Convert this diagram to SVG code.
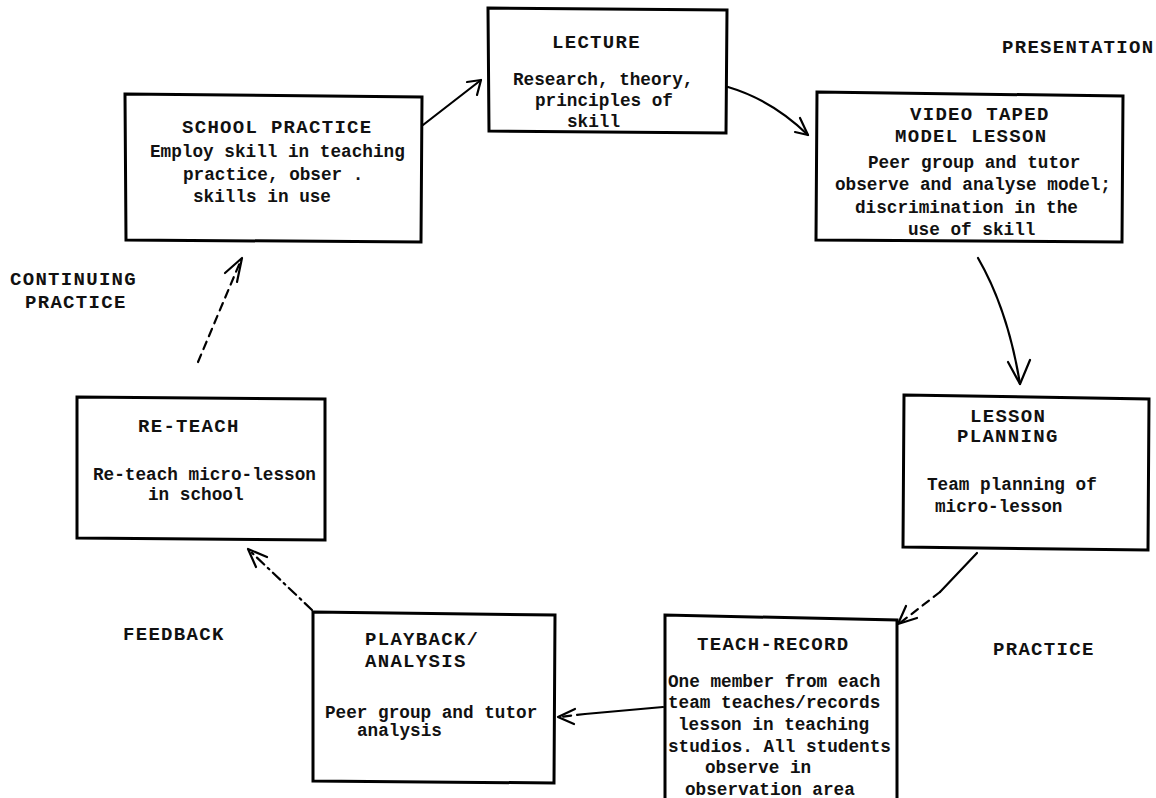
<svg xmlns="http://www.w3.org/2000/svg" width="1156" height="798" viewBox="0 0 1156 798">
<style>
.box{fill:none;stroke:#000;stroke-width:3;stroke-linejoin:miter}
.t{font-family:"Liberation Mono","Courier New",monospace;font-weight:700;font-size:19px;letter-spacing:1.3px;fill:#111}
.b{font-family:"Liberation Mono","Courier New",monospace;font-weight:700;font-size:17.7px;fill:#111}
.c{fill:none;stroke:#000;stroke-width:2.2;stroke-linecap:round;stroke-linejoin:round}
.d{stroke-dasharray:8 6}
.dd{stroke-dasharray:10 5 2 5}
</style>
<rect width="1156" height="798" fill="#fff"/>
<g id="lecture">
<path class="box" d="M488,8 L727,10 L726,133 L489,131 Z"/>
<text class="t" x="552" y="48">LECTURE</text>
<text class="b" x="513" y="85">Research, theory,</text>
<text class="b" x="535" y="106">principles of</text>
<text class="b" x="567" y="127">skill</text>
</g>
<g id="school-practice">
<path class="box" d="M125,94 L422,97 L421,242 L126,240 Z"/>
<text class="t" x="182" y="133">SCHOOL PRACTICE</text>
<text class="b" x="150" y="157">Employ skill in teaching</text>
<text class="b" x="183" y="180">practice, obser .</text>
<text class="b" x="193" y="202">skills in use</text>
</g>
<g id="video-taped">
<path class="box" d="M817,92 L1123,96 L1122,242 L816,240 Z"/>
<text class="t" x="910" y="120">VIDEO TAPED</text>
<text class="t" x="895" y="142">MODEL LESSON</text>
<text class="b" x="868" y="168">Peer group and tutor</text>
<text class="b" x="835" y="190">observe and analyse model;</text>
<text class="b" x="855" y="213">discrimination in the</text>
<text class="b" x="908" y="235">use of skill</text>
</g>
<g id="lesson-planning">
<path class="box" d="M904,395 L1149,399 L1148,550 L903,547 Z"/>
<text class="t" x="970" y="422">LESSON</text>
<text class="t" x="957" y="442">PLANNING</text>
<text class="b" x="927" y="490">Team planning of</text>
<text class="b" x="935" y="512">micro-lesson</text>
</g>
<g id="teach-record">
<path class="box" d="M665,800 L665,615 L897,620 L897,800"/>
<text class="t" x="697" y="650">TEACH-RECORD</text>
<text class="b" x="668" y="687">One member from each</text>
<text class="b" x="668" y="708">team teaches/records</text>
<text class="b" x="678" y="730">lesson in teaching</text>
<text class="b" x="668" y="752">studios. All students</text>
<text class="b" x="705" y="773">observe in</text>
<text class="b" x="685" y="795">observation area</text>
</g>
<g id="playback">
<path class="box" d="M313,612 L555,615 L554,783 L313,781 Z"/>
<text class="t" x="365" y="645">PLAYBACK/</text>
<text class="t" x="365" y="667">ANALYSIS</text>
<text class="b" x="325" y="718">Peer group and tutor</text>
<text class="b" x="357" y="736">analysis</text>
</g>
<g id="re-teach">
<path class="box" d="M77,397 L325,399 L325,540 L77,538 Z"/>
<text class="t" x="138" y="432">RE-TEACH</text>
<text class="b" x="93" y="480">Re-teach micro-lesson</text>
<text class="b" x="148" y="500">in school</text>
</g>
<g id="labels">
<text class="t" x="1002" y="53">PRESENTATION</text>
<text class="t" x="10" y="285">CONTINUING</text>
<text class="t" x="25" y="308">PRACTICE</text>
<text class="t" x="123" y="640">FEEDBACK</text>
<text class="t" x="993" y="655">PRACTICE</text>
</g>
<g id="connectors">
<path class="c" d="M423,125 L481,80"/>
<path class="c" d="M467,82 L481,80 L477,95"/>
<path class="c" d="M728,87 Q772,100 808,135"/>
<path class="c" d="M800,118 L808,135 L795,132"/>
<path class="c" d="M978,258 Q1008,310 1020,384"/>
<path class="c" d="M1008,362 L1020,384 L1030,360"/>
<path class="c" d="M977,553 L940,592"/>
<path class="c d" d="M940,592 L900,623"/>
<path class="c" d="M906,606 L898,624 L917,618"/>
<path class="c" d="M663,707 L585,714"/>
<path class="c d" d="M585,714 L560,717"/>
<path class="c" d="M575,709 L558,717 L574,724"/>
<path class="c dd" d="M312,610 L249,550"/>
<path class="c" d="M267,557 L248,549 L256,567"/>
<path class="c d" d="M198,362 L241,260"/>
<path class="c" d="M225,273 L242,258 L237,282"/>
</g>
</svg>
